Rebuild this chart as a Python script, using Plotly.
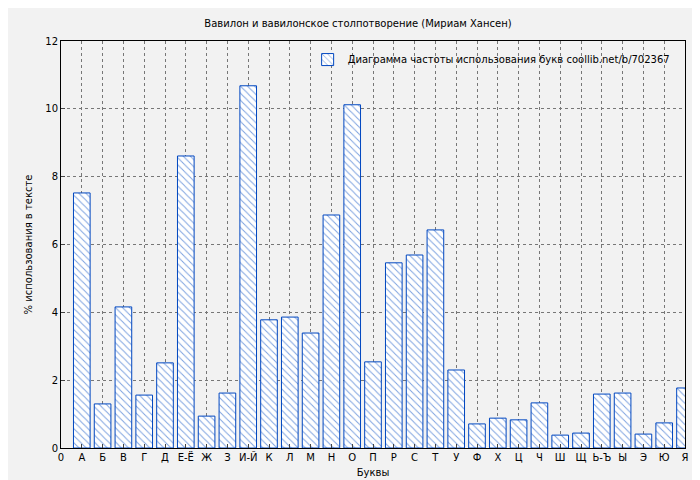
import plotly.graph_objects as go

letters = ["А","Б","В","Г","Д","Е-Ё","Ж","З","И-Й","К","Л","М","Н","О","П","Р","С","Т","У","Ф","Х","Ц","Ч","Ш","Щ","Ь-Ъ","Ы","Э","Ю","Я"]
values = [7.52,1.30,4.16,1.56,2.51,8.61,0.94,1.62,10.68,3.78,3.86,3.39,6.87,10.12,2.54,5.46,5.69,6.43,2.30,0.71,0.88,0.83,1.33,0.38,0.44,1.59,1.62,0.41,0.74,1.77]
tick_labels = ["0"] + letters

pos = list(range(1, len(letters) + 1))
fig = go.Figure(go.Bar(
    x=pos, y=values, width=0.8,
    name="Диаграмма частоты использования букв coollib.net/b/702367",
    marker=dict(color="white", line=dict(color="#0047c0", width=1),
                pattern=dict(shape="\\", fgcolor="#0047c0", bgcolor="white", size=5, solidity=0.2)),
))
fig.update_layout(
    width=700, height=480,
    paper_bgcolor="#f2f2f2", plot_bgcolor="#f2f2f2",
    margin=dict(l=53, r=23, t=33, b=40, autoexpand=False),
    font=dict(family="DejaVu Sans", size=10, color="black"),
    title=dict(text="Вавилон и вавилонское столпотворение (Мириам Хансен)", x=0.5, y=0.975, xanchor="center", font=dict(size=10)),
    showlegend=True,
    legend=dict(x=0.985, y=0.99, xanchor="right", yanchor="top", bgcolor="rgba(0,0,0,0)", font=dict(size=10)),
    bargap=0.2,
)
fig.update_xaxes(range=[0, 30], tickvals=list(range(0, 31)), ticktext=tick_labels, automargin=False,
                 showgrid=True, gridcolor="#777", griddash="dot", showline=True, linecolor="black", mirror=True,
                 ticks="inside", ticklen=4, title=dict(text="Буквы", standoff=6, font=dict(size=10)), zeroline=False)
fig.update_yaxes(range=[0, 12], dtick=2, showgrid=True, gridcolor="#777", griddash="dot", automargin=False,
                 showline=True, linecolor="black", mirror=True, ticks="inside", ticklen=4,
                 title=dict(text="% использования в тексте", standoff=10, font=dict(size=10)), zeroline=False)
fig.write_html("out.html")
